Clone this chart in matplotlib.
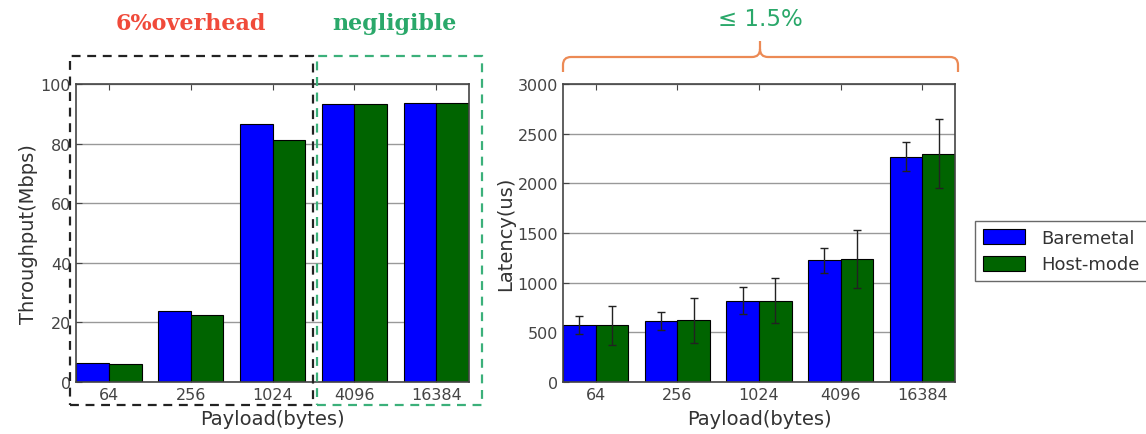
import matplotlib
matplotlib.use("Agg")
import matplotlib.pyplot as plt
import numpy as np
from matplotlib.patches import Rectangle
from matplotlib.path import Path
from matplotlib.patches import PathPatch

payloads = ["64", "256", "1024", "4096", "16384"]
thr_bare = [6.3, 23.8, 86.5, 93.3, 93.5]
thr_host = [5.9, 22.6, 81.3, 93.3, 93.5]
lat_bare = [570, 610, 820, 1225, 2270]
lat_host = [570, 620, 820, 1240, 2300]
lat_bare_err = [90, 90, 140, 125, 150]
lat_host_err = [195, 230, 230, 290, 350]

BLUE = "#0000ff"
GREEN = "#006400"

fig = plt.figure(figsize=(11.46, 4.35), dpi=100)
ax1 = fig.add_axes([76/1146, 1-383/435, 393/1146, 298/435])
ax2 = fig.add_axes([563/1146, 1-383/435, 392/1146, 298/435])

ind = np.arange(len(payloads))
w = 0.4

def style(ax):
    for s in ax.spines.values():
        s.set_color("#444444")
        s.set_linewidth(1.2)
    ax.tick_params(direction="in", length=4, labelsize=11.5, colors="#444444",
                   top=True, right=False)
    ax.yaxis.grid(True, color="#999999", linewidth=1)
    ax.set_axisbelow(True)
    ax.set_xticks(ind + w)
    ax.set_xticklabels(payloads)
    ax.set_xlim(0, len(payloads) - 1 + 2*w)

ax1.bar(ind, thr_bare, w, color=BLUE, edgecolor="black", linewidth=0.8, align="edge", label="Baremetal")
ax1.bar(ind + w, thr_host, w, color=GREEN, edgecolor="black", linewidth=0.8, align="edge", label="Host-mode")
style(ax1)
ax1.set_ylim(0, 100)
ax1.set_yticks([0, 20, 40, 60, 80, 100])
ax1.set_ylabel("Throughput(Mbps)", fontsize=14, color="#333333", labelpad=2)
ax1.set_xlabel("Payload(bytes)", fontsize=14, color="#333333", labelpad=5)

ekw = dict(ecolor="#222222", elinewidth=1, capsize=3, capthick=1)
ax2.bar(ind, lat_bare, w, color=BLUE, edgecolor="black", linewidth=0.8, align="edge", label="Baremetal",
        yerr=lat_bare_err, error_kw=ekw)
ax2.bar(ind + w, lat_host, w, color=GREEN, edgecolor="black", linewidth=0.8, align="edge", label="Host-mode",
        yerr=lat_host_err, error_kw=ekw)
style(ax2)
ax2.set_ylim(0, 3000)
ax2.set_yticks([0, 500, 1000, 1500, 2000, 2500, 3000])
ax2.set_ylabel("Latency(us)", fontsize=14, color="#333333", labelpad=2)
ax2.set_xlabel("Payload(bytes)", fontsize=14, color="#333333", labelpad=5)

leg = fig.legend(handles=[Rectangle((0, 0), 1, 1, fc=BLUE, ec="black", lw=0.8),
                          Rectangle((0, 0), 1, 1, fc=GREEN, ec="black", lw=0.8)],
                 labels=["Baremetal", "Host-mode"],
                 loc="upper left", bbox_to_anchor=(966/1146, 1-213/435),
                 fontsize=13, fancybox=False, edgecolor="#444444",
                 handlelength=2.3, handleheight=0.9, borderpad=0.45, labelspacing=0.45,
                 handletextpad=0.9)
for t in leg.get_texts():
    t.set_color("#333333")

def fx(px):
    return px / 1146
def fy(py):
    return 1 - py / 435

# dashed boxes
fig.add_artist(Rectangle((fx(70), fy(406)), fx(313) - fx(70), fy(57) - fy(406),
                         transform=fig.transFigure, fill=False, ec="#222222",
                         ls=(0, (4, 3)), lw=1.6))
fig.add_artist(Rectangle((fx(317), fy(406)), fx(482) - fx(317), fy(57) - fy(406),
                         transform=fig.transFigure, fill=False, ec="#3bb07a",
                         ls=(0, (4, 3)), lw=1.6))

fig.text(fx(191), fy(24), "6%overhead", color="#f04a3a", fontsize=16,
         fontweight="bold", family="DejaVu Serif", ha="center", va="center")
fig.text(fx(394), fy(24), "negligible", color="#2aa86a", fontsize=16,
         fontweight="bold", family="DejaVu Serif", ha="center", va="center")
fig.text(fx(760), fy(20), "≤ 1.5%", color="#2aa86a", fontsize=16.5,
         ha="center", va="center")

# curly brace
xl, xr, xm = 563, 958, 760
yb, yh, yt = 73, 58, 42
r = 8
verts = [
    (xl, yb), (xl, yh + r), (xl, yh), (xl + r, yh),
    (xm - r, yh), (xm, yh), (xm, yh - r),
    (xm, yt),
    (xm, yh - r), (xm, yh), (xm + r, yh),
    (xr - r, yh), (xr, yh), (xr, yh + r), (xr, yb),
]
codes = [Path.MOVETO, Path.LINETO, Path.CURVE3, Path.CURVE3,
         Path.LINETO, Path.CURVE3, Path.CURVE3,
         Path.LINETO,
         Path.MOVETO, Path.CURVE3, Path.CURVE3,
         Path.LINETO, Path.CURVE3, Path.CURVE3, Path.LINETO]
verts_f = [(fx(x), fy(y)) for x, y in verts]
fig.add_artist(PathPatch(Path(verts_f, codes), transform=fig.transFigure,
                         fill=False, ec="#ec8a55", lw=1.6))

fig.savefig("out.png", dpi=100)
